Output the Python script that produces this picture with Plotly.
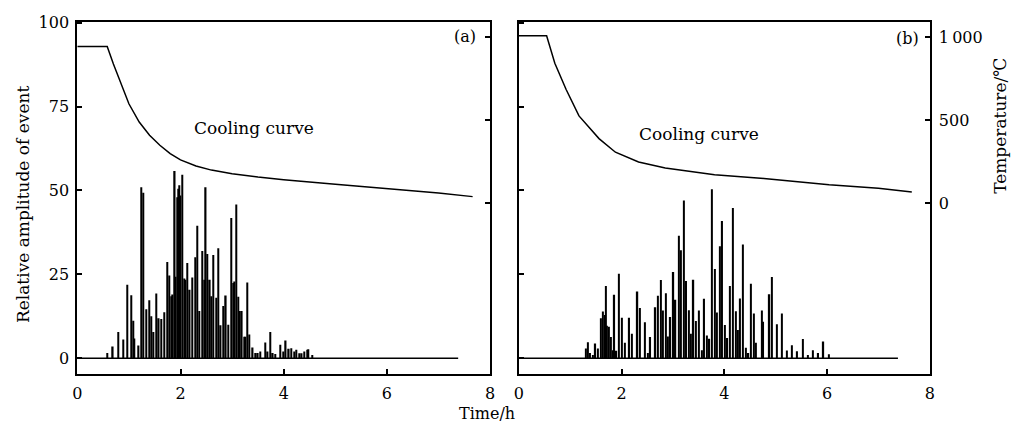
import plotly.graph_objects as go

# ---------------- data ----------------
# (a) acoustic-emission events: time (h) and relative amplitude
spike_a_t = [0.58, 0.69, 0.79, 0.89, 0.97, 1.04, 1.08, 1.11, 1.19, 1.24, 1.28, 1.34, 1.39, 1.43,
             1.48, 1.53, 1.58, 1.63, 1.68, 1.74, 1.78, 1.83, 1.85, 1.89, 1.91, 1.94, 1.96, 1.98,
             2.00, 2.03, 2.07, 2.10, 2.13, 2.18, 2.23, 2.28, 2.33, 2.37, 2.42, 2.46, 2.49, 2.52,
             2.57, 2.60, 2.64, 2.69, 2.73, 2.78, 2.83, 2.88, 2.92, 2.98, 3.02, 3.05, 3.08, 3.12,
             3.15, 3.19, 3.23, 3.26, 3.30, 3.33, 3.40, 3.45, 3.50, 3.54, 3.64, 3.69, 3.74, 3.79,
             3.84, 3.94, 3.99, 4.04, 4.10, 4.15, 4.20, 4.25, 4.30, 4.35, 4.40, 4.45, 4.48, 4.55]
spike_a_amp = [1.6, 3.5, 7.8, 5.6, 21.9, 18.8, 11.2, 5.9, 3.8, 51.0, 49.3, 14.6, 17.3, 12.5,
               7.8, 19.3, 11.9, 11.7, 13.7, 28.7, 24.7, 18.5, 19.0, 55.8, 24.3, 48.0, 50.5, 51.6,
               48.5, 54.7, 23.8, 23.4, 28.4, 20.4, 24.1, 30.1, 39.5, 14.1, 32.0, 23.4, 51.0, 31.1,
               23.4, 18.5, 30.8, 18.0, 32.8, 9.8, 15.6, 18.7, 10.0, 41.8, 22.4, 22.9, 45.8, 18.3,
               14.1, 14.1, 6.4, 6.4, 22.6, 7.1, 3.2, 1.6, 1.6, 2.0, 4.7, 2.0, 7.8, 1.6,
               1.3, 4.0, 2.0, 5.3, 2.8, 3.0, 2.0, 2.5, 1.5, 1.5, 2.0, 2.5, 2.7, 1.0]

# (b) acoustic-emission events
spike_b_t = [1.30, 1.35, 1.39, 1.44, 1.49, 1.54, 1.60, 1.64, 1.67, 1.70, 1.72, 1.75, 1.79, 1.83,
             1.86, 1.90, 1.95, 2.01, 2.06, 2.15, 2.20, 2.31, 2.35, 2.46, 2.51, 2.56, 2.66, 2.71,
             2.76, 2.81, 2.86, 2.90, 2.95, 3.01, 3.05, 3.11, 3.16, 3.21, 3.26, 3.31, 3.35, 3.40,
             3.45, 3.50, 3.56, 3.61, 3.66, 3.71, 3.76, 3.82, 3.86, 3.92, 3.96, 4.01, 4.06, 4.11,
             4.16, 4.22, 4.26, 4.31, 4.36, 4.42, 4.47, 4.52, 4.57, 4.62, 4.73, 4.76, 4.88, 4.92,
             5.02, 5.12, 5.22, 5.32, 5.42, 5.53, 5.63, 5.73, 5.83, 5.93, 6.03]
spike_b_amp = [2.9, 4.8, 1.6, 1.0, 4.4, 2.9, 11.9, 13.9, 12.9, 21.5, 9.7, 9.4, 6.3, 2.4,
               18.9, 2.2, 25.2, 12.1, 4.6, 12.1, 7.3, 19.9, 15.0, 10.7, 1.6, 6.3, 15.2, 18.6,
               23.3, 14.2, 19.4, 6.5, 12.3, 25.7, 17.4, 36.5, 32.2, 47.0, 23.0, 14.3, 7.3, 23.4,
               11.1, 14.2, 2.4, 17.7, 6.8, 5.8, 50.4, 26.6, 13.6, 33.4, 40.9, 9.9, 6.0, 21.5,
               44.8, 14.0, 8.4, 17.8, 33.9, 3.1, 1.6, 22.2, 13.3, 4.6, 14.2, 10.9, 19.1, 24.2,
               10.1, 13.3, 2.3, 3.9, 2.1, 5.7, 1.0, 2.4, 1.6, 5.0, 1.2]

# cooling curves: time (h), temperature (deg C)
cool_a_t = [0, 0.58, 0.70, 0.85, 1.00, 1.20, 1.40, 1.60, 1.80, 2.00, 2.30, 2.60, 3.00, 3.50,
            4.00, 5.00, 6.00, 7.00, 7.66]
cool_a_T = [945, 945, 840, 715, 600, 490, 410, 350, 300, 262, 225, 200, 178, 158,
            142, 115, 90, 62, 40]
cool_b_t = [0, 0.54, 0.70, 0.92, 1.17, 1.40, 1.56, 1.88, 2.33, 2.85, 3.30, 3.81, 4.77, 6.04,
            7.00, 7.65]
cool_b_T = [1010, 1010, 845, 686, 527, 446, 390, 308, 249, 213, 192, 172, 150, 112,
            90, 68]

baseline_t = [0, 7.38]
baseline_amp = [0, 0]

x_ticks = [0, 2, 4, 6, 8]
amp_ticks = [0, 25, 50, 75, 100]
temp_ticks = [0, 500, 1000]
temp_tick_labels = ["0", "500", "1\u2009000"]

# ---------------- figure ----------------
W, H = 1014, 427
FONT = "DejaVu Serif"


def px(x):
    return x / W


def py(y):
    return 1 - y / H


fig = go.Figure()

for xa, ya, t, amp in [("x", "y", spike_a_t, spike_a_amp),
                       ("x2", "y2", spike_b_t, spike_b_amp)]:
    fig.add_trace(go.Bar(x=t, y=amp, xaxis=xa, yaxis=ya, width=0.026,
                         marker=dict(color="black", line=dict(width=0)),
                         showlegend=False, hoverinfo="skip"))
    fig.add_trace(go.Scatter(x=baseline_t, y=baseline_amp, xaxis=xa, yaxis=ya, mode="lines",
                             line=dict(color="black", width=1.5),
                             showlegend=False, hoverinfo="skip"))

fig.add_trace(go.Scatter(x=cool_a_t, y=cool_a_T, xaxis="x", yaxis="y3", mode="lines",
                         line=dict(color="black", width=1.5), showlegend=False))
fig.add_trace(go.Scatter(x=cool_b_t, y=cool_b_T, xaxis="x2", yaxis="y4", mode="lines",
                         line=dict(color="black", width=1.5), showlegend=False))

y_dom = [py(373), py(14)]
amp_range = [-4.7, 100.3]
temp_range = [-1030, 1095]

common = dict(showgrid=False, zeroline=False, ticks="inside", ticklen=5, tickwidth=1.5,
              tickcolor="black", tickfont=dict(family=FONT, size=16, color="black"))
frame = dict(showline=True, linecolor="black", linewidth=2, mirror=True)

fig.update_layout(
    width=W, height=H,
    margin=dict(l=0, r=0, t=0, b=0),
    paper_bgcolor="white", plot_bgcolor="white",
    barmode="overlay",
    showlegend=False,
    xaxis=dict(domain=[px(73), px(490)], range=[0, 8], anchor="y", tickvals=x_ticks,
               ticklabelstandoff=4, **common, **frame),
    yaxis=dict(domain=y_dom, range=amp_range, anchor="x", tickvals=amp_ticks,
               ticklabelstandoff=3, **common, **frame),
    yaxis3=dict(overlaying="y", side="right", anchor="x", range=temp_range,
                tickvals=temp_ticks, showticklabels=False, showline=False, **common),
    xaxis2=dict(domain=[px(519), px(934)], range=[0, 8], anchor="y2", tickvals=x_ticks,
                ticklabelstandoff=4, **common, **frame),
    yaxis2=dict(domain=y_dom, range=amp_range, anchor="x2", tickvals=amp_ticks,
                showticklabels=False, **common, **frame),
    yaxis4=dict(overlaying="y2", side="right", anchor="x2", range=temp_range,
                tickvals=temp_ticks, ticktext=temp_tick_labels, showline=False,
                ticklabelstandoff=8, **common),
)

txt = dict(family=FONT, size=17, color="black")
ann = [
    dict(text="Cooling curve", x=px(251), y=py(122)),
    dict(text="Cooling curve", x=px(701), y=py(128)),
    dict(text="(a)", x=px(465), y=py(29), font=dict(family=FONT, size=16, color="black")),
    dict(text="(b)", x=px(911), y=py(31), font=dict(family=FONT, size=16, color="black")),
    dict(text="Time/h", x=px(487), y=py(413), font=dict(family=FONT, size=16, color="black")),
    dict(text="Relative amplitude of event", x=px(18), y=py(200), textangle=-90),
    dict(text="Temperature/\u2103", x=px(1005), y=py(120), textangle=-90),
]
for a in ann:
    f = a.pop("font", txt)
    fig.add_annotation(xref="paper", yref="paper", showarrow=False, font=f,
                       xanchor="center", yanchor="middle", **a)

fig.write_html("out.html", config={"displayModeBar": False},
               post_script="document.body.style.margin='0';document.body.style.padding='0';")
